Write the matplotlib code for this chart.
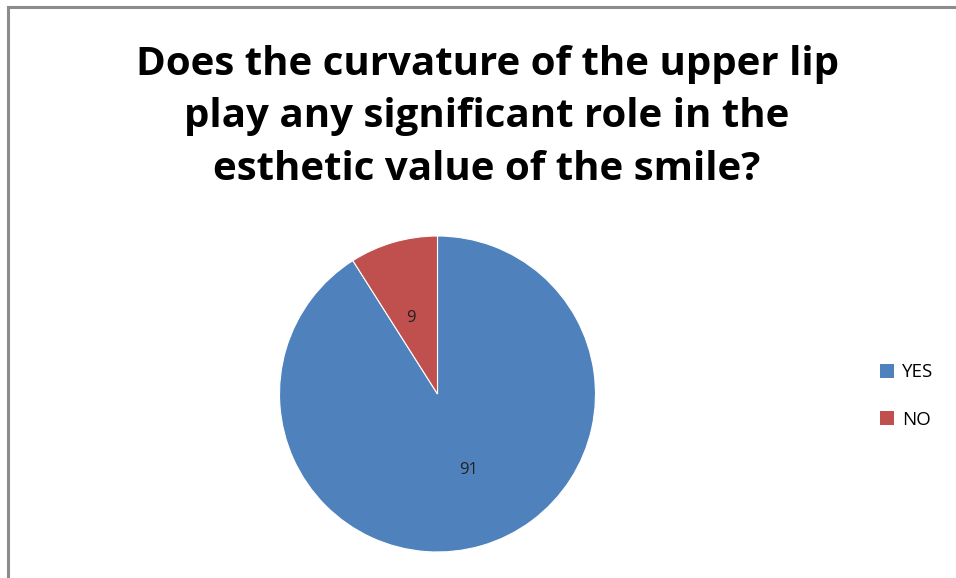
import matplotlib
matplotlib.use("Agg")
import matplotlib.pyplot as plt
from matplotlib.lines import Line2D
from matplotlib.patches import Patch

labels = ["YES", "NO"]
values = [91, 9]
colors = ["#4F81BD", "#C0504D"]
title = "Does the curvature of the upper lip\nplay any significant role in the\nesthetic value of the smile?"

W, H = 956, 578
fig = plt.figure(figsize=(W/100, H/100), dpi=100)
fig.patch.set_facecolor("white")

# border (left and top only visible)
bx, by = 8/W, 1 - 7/H
fig.add_artist(Line2D([bx, bx, 1.0], [0.0, by, by], transform=fig.transFigure,
                      color="#8c8c8c", linewidth=2.2, solid_joinstyle="miter"))

cx, cy, r = 437.5, 394, 158
ax = fig.add_axes([(cx-r)/W, (H-cy-r)/H, 2*r/W, 2*r/H])
wedges, texts = ax.pie(values, colors=colors, startangle=90, counterclock=False,
                       labels=[str(v) for v in values], labeldistance=0.5,
                       wedgeprops=dict(edgecolor="white", linewidth=0.8),
                       textprops=dict(fontsize=12, family="Open Sans", color="#222222"))
ax.set_xlim(-1, 1); ax.set_ylim(-1, 1)
ax.set_aspect("equal")
ax.axis("off")

fig.text(487/W, 1-117/H, title, ha="center", va="center", fontsize=29, fontweight="bold",
         family="Open Sans", linespacing=1.45, color="black")

handles = [Patch(facecolor=c, edgecolor="none") for c in colors]
leg = fig.legend(handles, labels, loc="center left", bbox_to_anchor=(863/W, 1-396/H),
                 frameon=False, prop=dict(family="Open Sans", size=13.5),
                 handlelength=0.75, handleheight=0.75, handletextpad=0.45, labelspacing=1.55)

fig.savefig("out.png", dpi=100)
